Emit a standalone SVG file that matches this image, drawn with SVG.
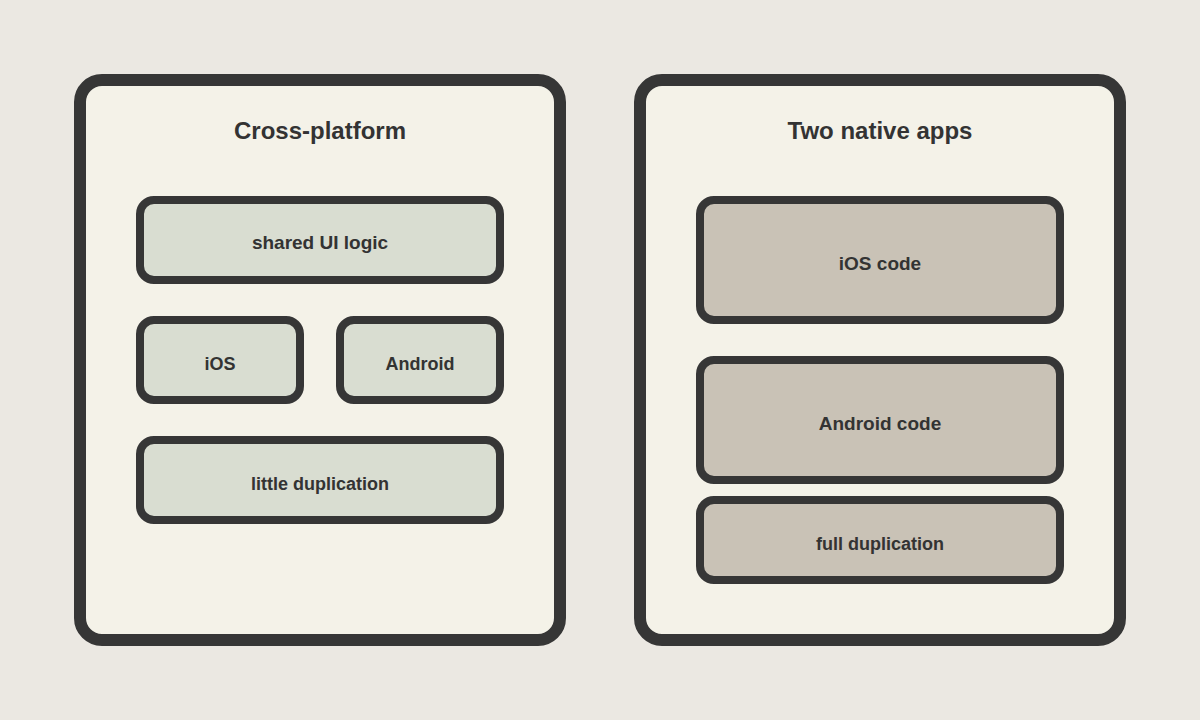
<svg xmlns="http://www.w3.org/2000/svg" width="1200" height="720" viewBox="0 0 1200 720">
<style>
.panel{fill:#f4f2e8;stroke:#363636;stroke-width:12}
.a{fill:#d9ddd1;stroke:#363636;stroke-width:8}
.b{fill:#c9c2b6;stroke:#363636;stroke-width:8}
text{font-family:"Liberation Sans",Arial,sans-serif;font-weight:bold;fill:#333;text-anchor:middle}
.t{font-size:24px}.l{font-size:19px}.s{font-size:18px}
</style>
<rect width="1200" height="720" fill="#ebe8e2"/>
<g id="cross"><rect class="panel" x="80" y="80" width="480" height="560" rx="22"/><text class="t" x="320" y="139">Cross-platform</text></g>
<g id="native"><rect class="panel" x="640" y="80" width="480" height="560" rx="22"/><text class="t" x="880" y="139">Two native apps</text></g>
<g id="shared"><rect class="a" x="140" y="200" width="360" height="80" rx="14"/><text class="l" x="320" y="249">shared UI logic</text></g>
<g id="ios"><rect class="a" x="140" y="320" width="160" height="80" rx="14"/><text class="s" x="220" y="370">iOS</text></g>
<g id="android"><rect class="a" x="340" y="320" width="160" height="80" rx="14"/><text class="s" x="420" y="370">Android</text></g>
<g id="little"><rect class="a" x="140" y="440" width="360" height="80" rx="14"/><text class="s" x="320" y="490">little duplication</text></g>
<g id="ioscode"><rect class="b" x="700" y="200" width="360" height="120" rx="14"/><text class="l" x="880" y="270">iOS code</text></g>
<g id="androidcode"><rect class="b" x="700" y="360" width="360" height="120" rx="14"/><text class="l" x="880" y="430">Android code</text></g>
<g id="full"><rect class="b" x="700" y="500" width="360" height="80" rx="14"/><text class="s" x="880" y="550">full duplication</text></g>
<g id="connectors"/>
</svg>
